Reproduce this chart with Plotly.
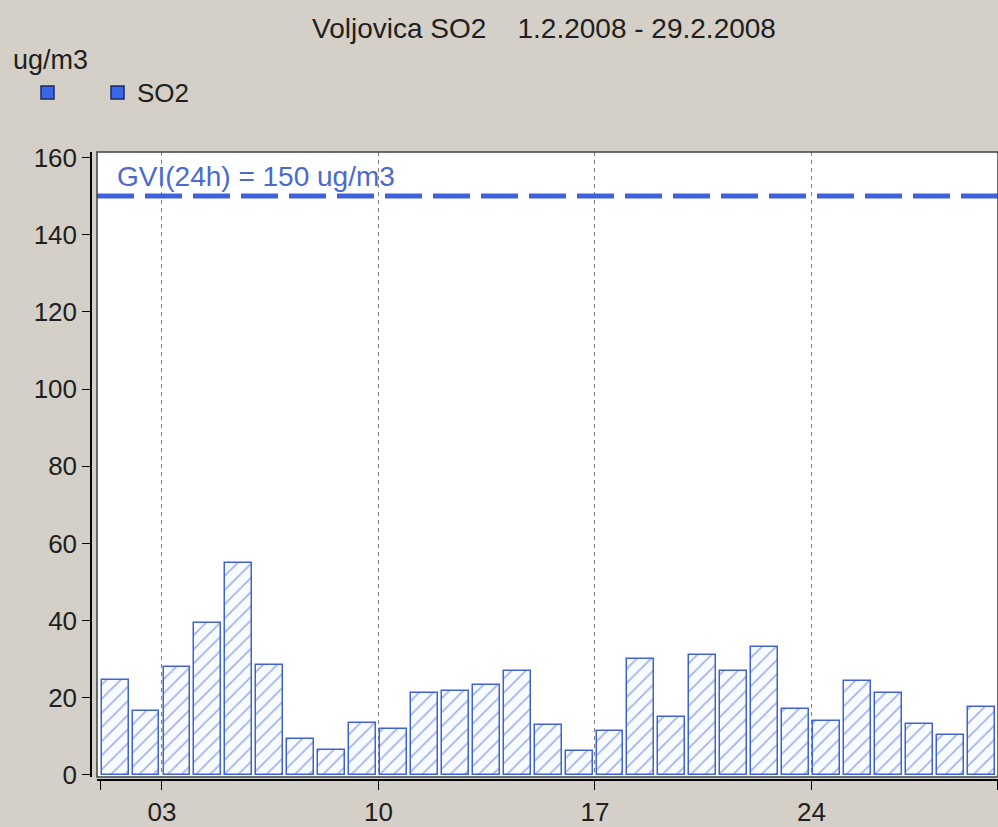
import plotly.graph_objects as go

# daily SO2 averages, Voljovica, February 2008
days = list(range(1, 30))
so2 = [24.7, 16.5, 28.0, 39.4, 54.9, 28.4, 9.2, 6.6, 13.4, 11.9,
       21.2, 21.8, 23.2, 26.9, 12.9, 6.1, 11.3, 30.0, 14.9, 31.2,
       26.9, 33.2, 17.0, 14.0, 24.4, 21.2, 13.3, 10.3, 17.5]

tick_days = [3, 10, 17, 24]
tick_labels = ["03", "10", "17", "24"]
y_ticks = [0, 20, 40, 60, 80, 100, 120, 140, 160]

limit_value = 150
limit_label = "GVI(24h) = 150 ug/m3"

W, H = 998, 827
ML, MR, MT, MB = 85, 0, 152, 44
FONT = "Liberation Sans, Arial, sans-serif"
BLUE = "#3d62dc"


def px_x(px):
    """pixel column -> paper x"""
    return (px - ML) / (W - ML - MR)


def px_y(py):
    """pixel row -> paper y"""
    return (H - MB - py) / (H - MT - MB)


fig = go.Figure()

fig.add_trace(go.Bar(
    x=days,
    y=so2,
    name="SO2",
    offset=0.05,
    width=0.87,
    marker=dict(
        color="#f8fbff",
        line=dict(color="#3f63d4", width=1.5),
        pattern=dict(shape="/", fgcolor="#4a6cd4", bgcolor="#f8fbff",
                     size=10, solidity=0.18),
    ),
    showlegend=False,
))

# limit value line
fig.add_hline(y=limit_value, line_dash="37px,11px", line_color=BLUE, line_width=5)
fig.add_annotation(
    x=0.02, xref="x domain", y=155, yref="y",
    text=limit_label, showarrow=False, xanchor="left", yanchor="middle",
    font=dict(family=FONT, size=28, color="#4a6ad0"),
)

# plot frame
fig.add_shape(type="rect", xref="x domain", yref="y domain",
              x0=0, x1=1, y0=0, y1=1, line=dict(color="#404040", width=1.5),
              layer="above")

# unit label and legend
fig.add_annotation(x=px_x(11), y=px_y(60), xref="paper", yref="paper",
                   text="ug/m3", showarrow=False, xanchor="left", yanchor="middle",
                   font=dict(family=FONT, size=27, color="#202020"))
for x0 in (41, 111):
    fig.add_shape(type="rect", xref="paper", yref="paper",
                  x0=px_x(x0), x1=px_x(x0 + 13), y0=px_y(99), y1=px_y(86),
                  fillcolor="#3a66e8", line=dict(color="#1a2a60", width=1.5))
fig.add_annotation(x=px_x(135), y=px_y(93), xref="paper", yref="paper",
                   text="SO2", showarrow=False, xanchor="left", yanchor="middle",
                   font=dict(family=FONT, size=26, color="#202020"))

fig.update_layout(
    width=W, height=H,
    margin=dict(l=ML, r=MR, t=MT, b=MB),
    paper_bgcolor="#d4d0c8",
    plot_bgcolor="white",
    font=dict(family=FONT, size=26, color="#202020"),
    title=dict(
        text="Voljovica SO2\u00a0\u00a0\u00a0 1.2.2008 - 29.2.2008",
        x=544 / W, xanchor="center", y=1 - 28 / H, yanchor="middle",
        font=dict(family=FONT, size=28, color="#202020"),
    ),
    bargap=0,
    xaxis=dict(
        domain=[px_x(97), 1],
        range=[0.9, 30.03],
        anchor="free", position=px_y(780),
        tickmode="array", tickvals=tick_days, ticktext=tick_labels,
        showgrid=True, gridcolor="#808080", griddash="4px,4px", gridwidth=1,
        showline=True, linecolor="black", linewidth=1.5,
        ticks="outside", ticklen=9, tickcolor="black",
        minor=dict(tickvals=[1, 30], ticks="outside", ticklen=9,
                   tickcolor="black", showgrid=False),
        zeroline=False,
    ),
    yaxis=dict(
        domain=[px_y(777), 1],
        range=[-0.52, 161.4],
        anchor="free", position=px_x(91),
        tickmode="array", tickvals=y_ticks,
        showgrid=False, zeroline=False,
        showline=True, linecolor="black", linewidth=1.5,
        ticks="outside", ticklen=8, tickcolor="black",
    ),
)

# drop the page's default body margin so the figure fills the window
fig.write_html("out.html", config={"displayModeBar": False},
               post_script="document.body.style.margin='0';")
